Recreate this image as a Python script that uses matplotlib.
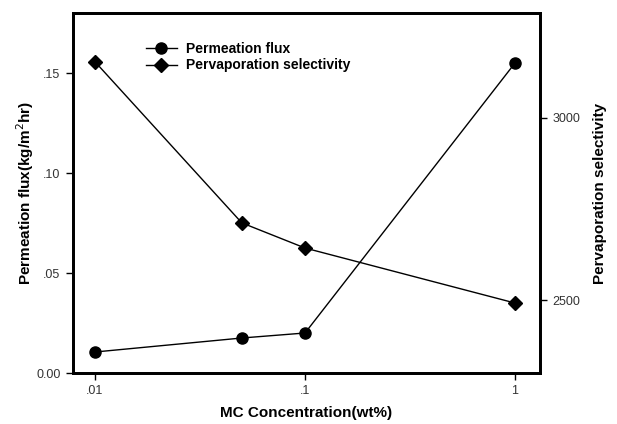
import numpy as np
import matplotlib.pyplot as plt
from matplotlib.ticker import FixedLocator, FixedFormatter, NullLocator

plt.rcParams['font.family'] = ['Liberation Sans', 'DejaVu Sans']

concentration = [0.01, 0.05, 0.1, 1]
permeation_flux = [0.0105, 0.0175, 0.020, 0.155]
selectivity = [3154, 2712, 2643, 2492]

x_ticks = [0.01, 0.1, 1]
x_tick_labels = ['.01', '.1', '1']
flux_ticks = [0.00, 0.05, 0.10, 0.15]
flux_tick_labels = ['0.00', '.05', '.10', '.15']
sel_ticks = [2500, 3000]
sel_tick_labels = ['2500', '3000']

fig = plt.figure(figsize=(6.17, 4.24), dpi=100)
ax = fig.add_axes([73 / 617, 1 - 373 / 424, (540 - 73) / 617, (373 - 13) / 424])
ax2 = ax.twinx()

l1, = ax.plot(concentration, permeation_flux, 'o-', color='black', lw=1,
              ms=8, label='Permeation flux')
l2, = ax2.plot(concentration, selectivity, 'D-', color='black', lw=1,
               ms=7, label='Pervaporation selectivity')

ax.set_xscale('log')
ax.set_xlim(10 ** -2.105, 10 ** 0.119)
ax.set_ylim(0, 0.18)
ax2.set_ylim(2300, 3288)

ax.xaxis.set_major_locator(FixedLocator(x_ticks))
ax.xaxis.set_major_formatter(FixedFormatter(x_tick_labels))
ax.xaxis.set_minor_locator(NullLocator())
ax.yaxis.set_major_locator(FixedLocator(flux_ticks))
ax.yaxis.set_major_formatter(FixedFormatter(flux_tick_labels))
ax2.yaxis.set_major_locator(FixedLocator(sel_ticks))
ax2.yaxis.set_major_formatter(FixedFormatter(sel_tick_labels))

for a in (ax, ax2):
    for s in a.spines.values():
        s.set_linewidth(2)
    a.tick_params(direction='out', length=5, width=1, labelsize=9,
                  labelcolor='#333333', pad=4)

ax.set_xlabel('MC Concentration(wt%)', fontsize=11, fontweight='bold', labelpad=6)
ax.set_ylabel('Permeation flux(kg/m$^2$hr)', fontsize=11, fontweight='bold', labelpad=0)
ax2.set_ylabel('Pervaporation selectivity', fontsize=11, fontweight='bold', labelpad=9)

ax.legend(handles=[l1, l2], loc='upper left', bbox_to_anchor=(0.13, 0.955),
          frameon=False, handlelength=2.2, handletextpad=0.7, labelspacing=0.2,
          prop={'weight': 'bold', 'size': 10})

fig.savefig('out.png', dpi=100)
